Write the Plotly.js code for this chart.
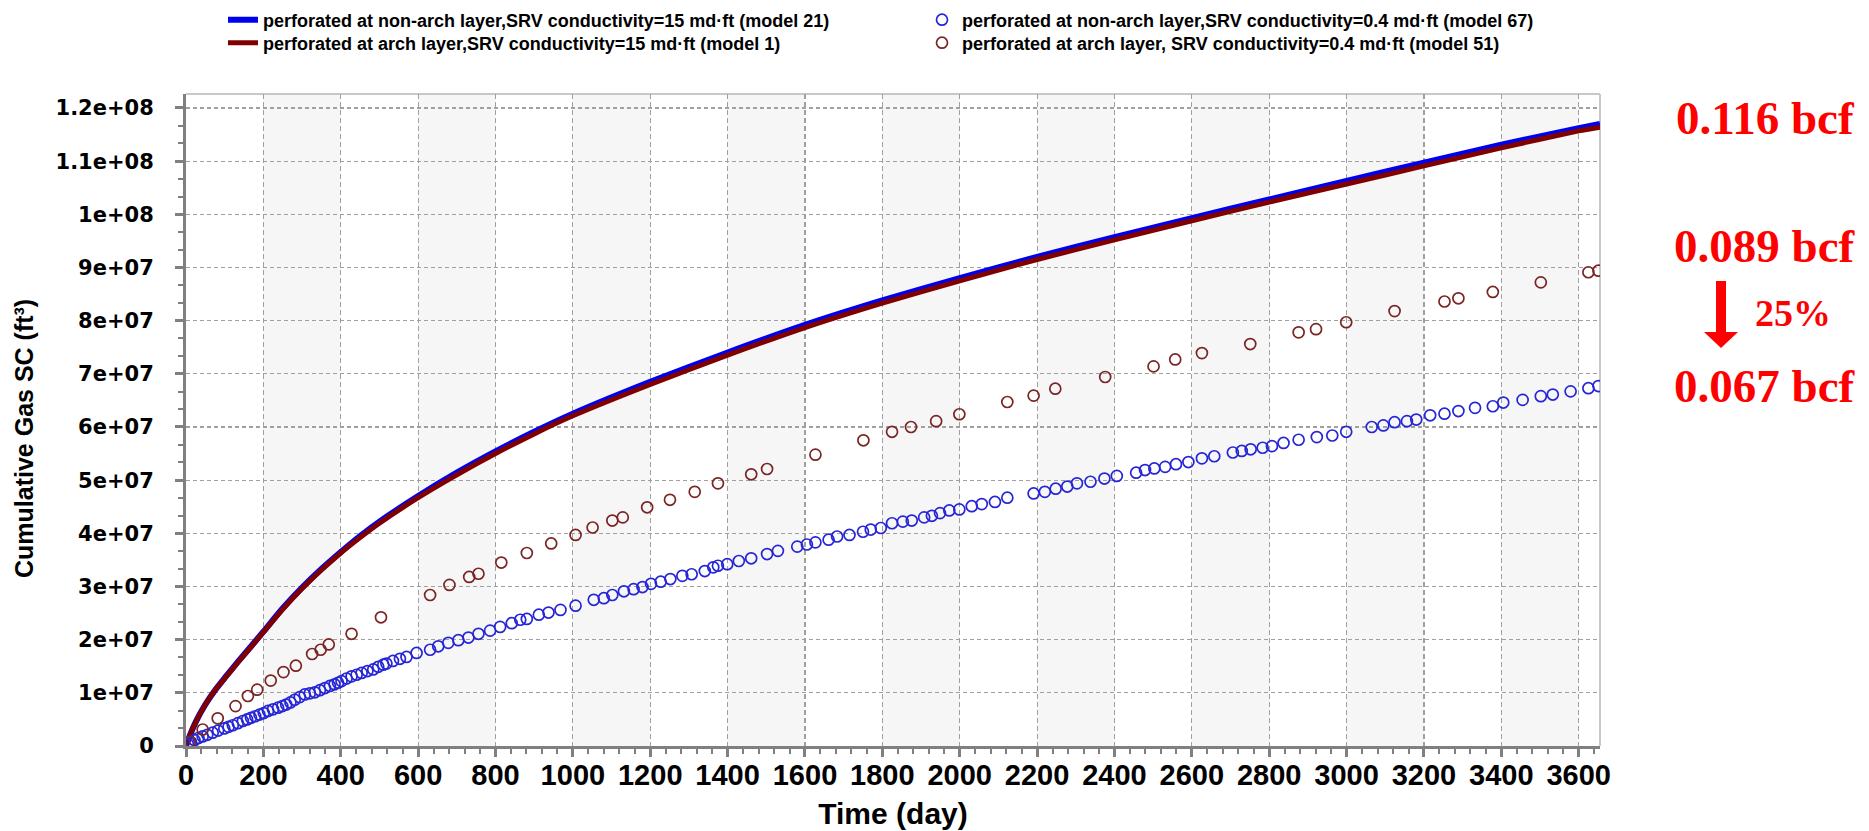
<!DOCTYPE html>
<html>
<head>
<meta charset="utf-8">
<script src="https://cdn.plot.ly/plotly-3.0.1.min.js"></script>
<style>
  html, body { margin: 0; padding: 0; background: #ffffff; }
  #chart { width: 1869px; height: 831px; }
</style>
</head>
<body>
<div id="chart"></div>
<script>
// ---------------- data ----------------
const seriesNames = [
  "perforated at non-arch layer,SRV conductivity=15 md·ft (model 21)",
  "perforated at arch layer,SRV conductivity=15 md·ft (model 1)",
  "perforated at non-arch layer,SRV conductivity=0.4 md·ft (model 67)",
  "perforated at arch layer, SRV conductivity=0.4 md·ft (model 51)"
];

// solid curves (SRV conductivity = 15 md·ft)
const lineDays   = [0, 10, 25, 50, 75, 100, 135, 170, 200, 250, 300, 350, 400, 450, 500, 600, 700, 800, 900, 1000, 1200, 1400, 1600, 1800, 2000, 2200, 2400, 2600, 2800, 3000, 3200, 3400, 3600, 3655];
const model21Gas = [0, 2.0e6, 4.5e6, 7.8e6, 1.05e7, 1.28e7, 1.59e7, 1.89e7, 2.15e7, 2.59e7, 2.98e7, 3.33e7, 3.65e7, 3.95e7, 4.22e7, 4.7e7, 5.14e7, 5.54e7, 5.91e7, 6.25e7, 6.85e7, 7.4e7, 7.92e7, 8.38e7, 8.8e7, 9.2e7, 9.57e7, 9.93e7, 1.028e8, 1.063e8, 1.097e8, 1.131e8, 1.162e8, 1.17e8];
const model1Gas  = [0, 2.0e6, 4.5e6, 7.8e6, 1.05e7, 1.27e7, 1.58e7, 1.88e7, 2.14e7, 2.57e7, 2.96e7, 3.31e7, 3.63e7, 3.92e7, 4.19e7, 4.67e7, 5.1e7, 5.5e7, 5.87e7, 6.21e7, 6.8e7, 7.35e7, 7.87e7, 8.33e7, 8.75e7, 9.15e7, 9.52e7, 9.88e7, 1.023e8, 1.057e8, 1.091e8, 1.125e8, 1.157e8, 1.164e8];

// hollow circles (SRV conductivity = 0.4 md·ft), model 67
const model67Days = [5, 13, 22, 32, 43, 55, 69, 83, 99, 110, 121, 134, 147, 158, 168, 179, 190, 201, 212, 225, 238, 249, 259, 270, 281, 294, 307, 320, 333, 346, 359, 372, 384, 393, 402, 415, 428, 441, 454, 469, 484, 497, 510, 518, 535, 553, 570, 596, 631, 652, 678, 704, 730, 756, 786, 812, 842, 864, 881, 912, 937, 968, 1007, 1054, 1080, 1102, 1132, 1157, 1180, 1202, 1227, 1252, 1283, 1307, 1341, 1363, 1375, 1399, 1429, 1461, 1502, 1530, 1580, 1605, 1627, 1661, 1683, 1715, 1750, 1770, 1796, 1825, 1853, 1876, 1908, 1928, 1949, 1973, 1999, 2031, 2057, 2091, 2123, 2191, 2220, 2248, 2278, 2303, 2338, 2374, 2406, 2456, 2479, 2503, 2531, 2559, 2591, 2626, 2658, 2706, 2729, 2752, 2783, 2807, 2837, 2876, 2923, 2963, 2999, 3065, 3095, 3124, 3156, 3180, 3216, 3253, 3289, 3332, 3378, 3405, 3455, 3502, 3533, 3579, 3625, 3651];
const model67Gas = [3e5, 7e5, 1.1e6, 1.5e6, 1.8e6, 2.1e6, 2.5e6, 2.9e6, 3.3e6, 3.6e6, 3.9e6, 4.3e6, 4.7e6, 5.0e6, 5.3e6, 5.6e6, 5.9e6, 6.2e6, 6.6e6, 6.9e6, 7.2e6, 7.5e6, 7.8e6, 8.2e6, 8.7e6, 9.2e6, 9.7e6, 9.9e6, 1.01e7, 1.05e7, 1.09e7, 1.13e7, 1.16e7, 1.19e7, 1.22e7, 1.27e7, 1.31e7, 1.34e7, 1.375e7, 1.41e7, 1.44e7, 1.49e7, 1.53e7, 1.55e7, 1.6e7, 1.64e7, 1.675e7, 1.75e7, 1.81e7, 1.875e7, 1.94e7, 1.99e7, 2.04e7, 2.11e7, 2.17e7, 2.24e7, 2.31e7, 2.375e7, 2.39e7, 2.47e7, 2.51e7, 2.56e7, 2.64e7, 2.75e7, 2.78e7, 2.84e7, 2.91e7, 2.95e7, 2.99e7, 3.05e7, 3.09e7, 3.14e7, 3.2e7, 3.23e7, 3.29e7, 3.36e7, 3.39e7, 3.42e7, 3.48e7, 3.53e7, 3.61e7, 3.67e7, 3.75e7, 3.79e7, 3.83e7, 3.88e7, 3.94e7, 3.97e7, 4.03e7, 4.07e7, 4.1e7, 4.19e7, 4.22e7, 4.24e7, 4.3e7, 4.33e7, 4.38e7, 4.43e7, 4.45e7, 4.51e7, 4.55e7, 4.59e7, 4.67e7, 4.75e7, 4.78e7, 4.84e7, 4.88e7, 4.94e7, 4.97e7, 5.03e7, 5.08e7, 5.14e7, 5.19e7, 5.22e7, 5.25e7, 5.3e7, 5.34e7, 5.41e7, 5.45e7, 5.52e7, 5.55e7, 5.58e7, 5.61e7, 5.64e7, 5.7e7, 5.76e7, 5.81e7, 5.84e7, 5.91e7, 6.0e7, 6.03e7, 6.09e7, 6.11e7, 6.14e7, 6.22e7, 6.25e7, 6.3e7, 6.36e7, 6.39e7, 6.46e7, 6.51e7, 6.58e7, 6.61e7, 6.67e7, 6.73e7, 6.77e7];

// hollow circles, model 51
const model51Days = [10, 43, 82, 128, 160, 184, 219, 252, 284, 326, 348, 369, 428, 504, 631, 681, 732, 756, 815, 881, 944, 1007, 1051, 1102, 1129, 1192, 1251, 1315, 1375, 1461, 1502, 1627, 1751, 1825, 1874, 1939, 1999, 2123, 2191, 2247, 2376, 2501, 2557, 2626, 2751, 2876, 2921, 2999, 3124, 3253, 3289, 3378, 3502, 3625, 3651];
const model51Gas = [8e5, 3.1e6, 5.2e6, 7.5e6, 9.4e6, 1.06e7, 1.23e7, 1.39e7, 1.51e7, 1.73e7, 1.81e7, 1.91e7, 2.11e7, 2.42e7, 2.84e7, 3.03e7, 3.18e7, 3.24e7, 3.45e7, 3.63e7, 3.81e7, 3.97e7, 4.11e7, 4.24e7, 4.3e7, 4.49e7, 4.63e7, 4.78e7, 4.94e7, 5.11e7, 5.21e7, 5.48e7, 5.75e7, 5.91e7, 6.0e7, 6.11e7, 6.24e7, 6.47e7, 6.59e7, 6.72e7, 6.94e7, 7.14e7, 7.27e7, 7.39e7, 7.56e7, 7.78e7, 7.84e7, 7.97e7, 8.18e7, 8.36e7, 8.42e7, 8.54e7, 8.72e7, 8.91e7, 8.94e7];

// axes
const xTickVals = [0, 200, 400, 600, 800, 1000, 1200, 1400, 1600, 1800, 2000, 2200, 2400, 2600, 2800, 3000, 3200, 3400, 3600];
const xTickText = ["0", "200", "400", "600", "800", "1000", "1200", "1400", "1600", "1800", "2000", "2200", "2400", "2600", "2800", "3000", "3200", "3400", "3600"];
const yTickVals = [0, 1e7, 2e7, 3e7, 4e7, 5e7, 6e7, 7e7, 8e7, 9e7, 1e8, 1.1e8, 1.2e8];
const yTickText = ["0", "1e+07", "2e+07", "3e+07", "4e+07", "5e+07", "6e+07", "7e+07", "8e+07", "9e+07", "1e+08", "1.1e+08", "1.2e+08"];
const xTitle = "Time (day)";
const yTitle = "Cumulative Gas SC (ft³)";

// side notes
const bcfLabels = ["0.116 bcf", "0.089 bcf", "0.067 bcf"];
const dropLabel = "25%";

// ---------------- layout helpers ----------------
const W = 1869, H = 831;
const PL = 186, PR = 1600, PT = 94, PB = 746;
const px = v => (v - PL) / (PR - PL);
const py = v => (PB - v) / (PB - PT);

const traces = [
  { x: lineDays, y: model21Gas, name: seriesNames[0], type: "scatter", mode: "lines",
    line: { color: "#0000f0", width: 6, shape: "spline", smoothing: 0.6 }, legend: "legend" },
  { x: lineDays, y: model1Gas, name: seriesNames[1], type: "scatter", mode: "lines",
    line: { color: "#800000", width: 5, shape: "spline", smoothing: 0.6 }, legend: "legend3" },
  { x: model67Days, y: model67Gas, name: seriesNames[2], type: "scatter", mode: "markers",
    marker: { symbol: "circle-open", size: 11, color: "#2626d6", line: { width: 1.7, color: "#2626d6" } }, legend: "legend2" },
  { x: model51Days, y: model51Gas, name: seriesNames[3], type: "scatter", mode: "markers",
    marker: { symbol: "circle-open", size: 11, color: "#7a2424", line: { width: 1.7, color: "#7a2424" } }, legend: "legend4" }
];

// alternate shaded bands between x ticks
const shapes = [];
for (let i = 1; i + 1 < xTickVals.length; i += 2) {
  shapes.push({ type: "rect", xref: "x", yref: "paper", x0: xTickVals[i], x1: xTickVals[i + 1], y0: 0, y1: 1,
    fillcolor: "#f6f6f6", line: { width: 0 }, layer: "below" });
}
// light frame at top and right
shapes.push({ type: "line", xref: "paper", yref: "paper", x0: 0, x1: 1, y0: 1, y1: 1, line: { color: "#c8c8c8", width: 2 }, layer: "below" });
shapes.push({ type: "line", xref: "paper", yref: "paper", x0: 1, x1: 1, y0: 0, y1: 1, line: { color: "#c8c8c8", width: 2 }, layer: "below" });
// red arrow
const ax = 1721;
shapes.push({ type: "path", xref: "paper", yref: "paper",
  path: `M ${px(ax - 5)},${py(281)} L ${px(ax + 5)},${py(281)} L ${px(ax + 5)},${py(332)} L ${px(ax + 17)},${py(332)} L ${px(ax)},${py(348)} L ${px(ax - 17)},${py(332)} L ${px(ax - 5)},${py(332)} Z`,
  fillcolor: "#ff0000", line: { width: 0 } });

const redFont = s => ({ family: "Liberation Serif, Times New Roman, serif", size: s, color: "#ff0000", weight: "bold" });
const annotations = [
  { text: bcfLabels[0], xref: "paper", yref: "paper", x: px(1765), y: py(118), showarrow: false, xanchor: "center", yanchor: "middle", font: redFont(47) },
  { text: bcfLabels[1], xref: "paper", yref: "paper", x: px(1765), y: py(246), showarrow: false, xanchor: "center", yanchor: "middle", font: redFont(47) },
  { text: bcfLabels[2], xref: "paper", yref: "paper", x: px(1765), y: py(386), showarrow: false, xanchor: "center", yanchor: "middle", font: redFont(47) },
  { text: dropLabel, xref: "paper", yref: "paper", x: px(1793), y: py(313), showarrow: false, xanchor: "center", yanchor: "middle", font: redFont(38) },
  { text: yTitle, xref: "paper", yref: "paper", x: px(24), y: py(439), showarrow: false, textangle: -90, xanchor: "center", yanchor: "middle",
    font: { family: "Liberation Sans, Arial, sans-serif", size: 25, color: "#000000", weight: "bold" } }
];

const legendFont = { family: "Liberation Sans, Arial, sans-serif", size: 18, color: "#000000", weight: "bold" };
const legendBox = (xp, yp) => ({ x: px(xp), y: py(yp), xanchor: "left", yanchor: "middle", orientation: "v", font: legendFont,
  bgcolor: "rgba(0,0,0,0)", borderwidth: 0, tracegroupgap: 0, itemwidth: 30 });

const layout = {
  width: W, height: H,
  margin: { l: PL, r: W - PR, t: PT, b: H - PB, pad: 0, autoexpand: false },
  paper_bgcolor: "#ffffff", plot_bgcolor: "#ffffff",
  showlegend: true,
  legend: legendBox(223, 20),
  legend3: legendBox(223, 43),
  legend2: legendBox(922, 20),
  legend4: legendBox(922, 43),
  xaxis: {
    range: [0, 3655], tickmode: "array", tickvals: xTickVals, ticktext: xTickText,
    showline: true, linecolor: "#808080", linewidth: 3,
    ticks: "outside", ticklen: 8, tickwidth: 3, tickcolor: "#808080",
    minor: { tickmode: "linear", tick0: 0, dtick: 40, ticks: "outside", ticklen: 5, tickwidth: 2, tickcolor: "#808080", showgrid: false },
    showgrid: true, gridcolor: "#a0a0a0", gridwidth: 1.2, griddash: "5px,3px",
    zeroline: false,
    tickfont: { family: "Liberation Sans, Arial, sans-serif", size: 29, color: "#000000", weight: "bold" },
    ticklabelstandoff: -7,
    title: { text: xTitle, standoff: 14, font: { family: "Liberation Sans, Arial, sans-serif", size: 30, color: "#000000", weight: "bold" } }
  },
  yaxis: {
    range: [0, 1.2263e8], tickmode: "array", tickvals: yTickVals, ticktext: yTickText,
    showline: true, linecolor: "#808080", linewidth: 3,
    ticks: "outside", ticklen: 8, tickwidth: 3, tickcolor: "#808080",
    minor: { tickmode: "linear", tick0: 0, dtick: 1e7 / 3, ticks: "outside", ticklen: 5, tickwidth: 2, tickcolor: "#808080", showgrid: false },
    showgrid: true, gridcolor: "#a0a0a0", gridwidth: 1.2, griddash: "4px,3px",
    zeroline: false,
    tickfont: { family: "DejaVu Sans, Verdana, sans-serif", size: 21, color: "#000000", weight: "bold" },
    ticklabelstandoff: 17
  },
  shapes: shapes,
  annotations: annotations
};

Plotly.newPlot("chart", traces, layout, { staticPlot: true, displayModeBar: false });
</script>
</body>
</html>
